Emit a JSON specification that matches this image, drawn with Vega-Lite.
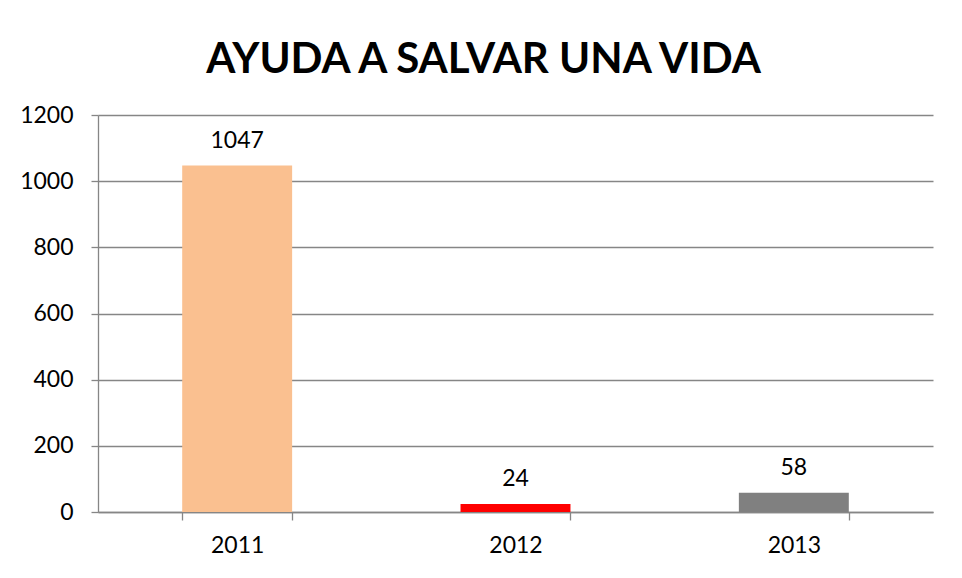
{
  "$schema": "https://vega.github.io/schema/vega-lite/v6.json",
  "width": 835,
  "height": 397,
  "autosize": {"type": "none"},
  "padding": {"left": 98, "top": 115, "right": 29, "bottom": 66},
  "background": "white",
  "title": {
    "text": "AYUDA A SALVAR UNA VIDA",
    "font": "Lato",
    "fontSize": 42,
    "fontWeight": "bold",
    "color": "black",
    "anchor": "middle",
    "frame": "group",
    "baseline": "alphabetic",
    "offset": -11,
    "dx": -32
  },
  "data": {
    "values": [
      {"year": "2011", "value": 1047},
      {"year": "2012", "value": 24},
      {"year": "2013", "value": 58}
    ]
  },
  "encoding": {
    "x": {
      "field": "year",
      "type": "nominal",
      "sort": null,
      "scale": {"paddingInner": 0.605, "paddingOuter": 0.3025},
      "axis": {
        "title": null,
        "labelAngle": 0,
        "tickBand": "extent",
        "domainColor": "#868686",
        "tickColor": "#868686",
        "tickSize": 8,
        "labelPadding": 14,
        "labelFont": "Lato",
        "labelFontSize": 23,
        "labelColor": "black",
        "grid": false
      }
    },
    "y": {
      "field": "value",
      "type": "quantitative",
      "scale": {"domain": [0, 1200], "nice": false},
      "axis": {
        "title": null,
        "format": "d",
        "values": [0, 200, 400, 600, 800, 1000, 1200],
        "domainColor": "#868686",
        "tickColor": "#868686",
        "gridColor": "#868686",
        "tickSize": 7,
        "labelPadding": 18,
        "labelFont": "Lato",
        "labelFontSize": 23,
        "labelColor": "black"
      }
    }
  },
  "layer": [
    {
      "mark": {"type": "bar"},
      "encoding": {
        "color": {
          "field": "year",
          "type": "nominal",
          "scale": {"domain": ["2011", "2012", "2013"], "range": ["#FAC090", "#FF0000", "#808080"]},
          "legend": null
        }
      }
    },
    {
      "mark": {"type": "text", "baseline": "alphabetic", "dy": -18, "font": "Lato", "fontSize": 23, "color": "black"},
      "encoding": {"text": {"field": "value", "type": "quantitative"}}
    }
  ],
  "config": {
    "view": {"stroke": null},
    "axis": {"domainWidth": 1.3, "tickWidth": 1.3, "gridWidth": 1.3}
  }
}
